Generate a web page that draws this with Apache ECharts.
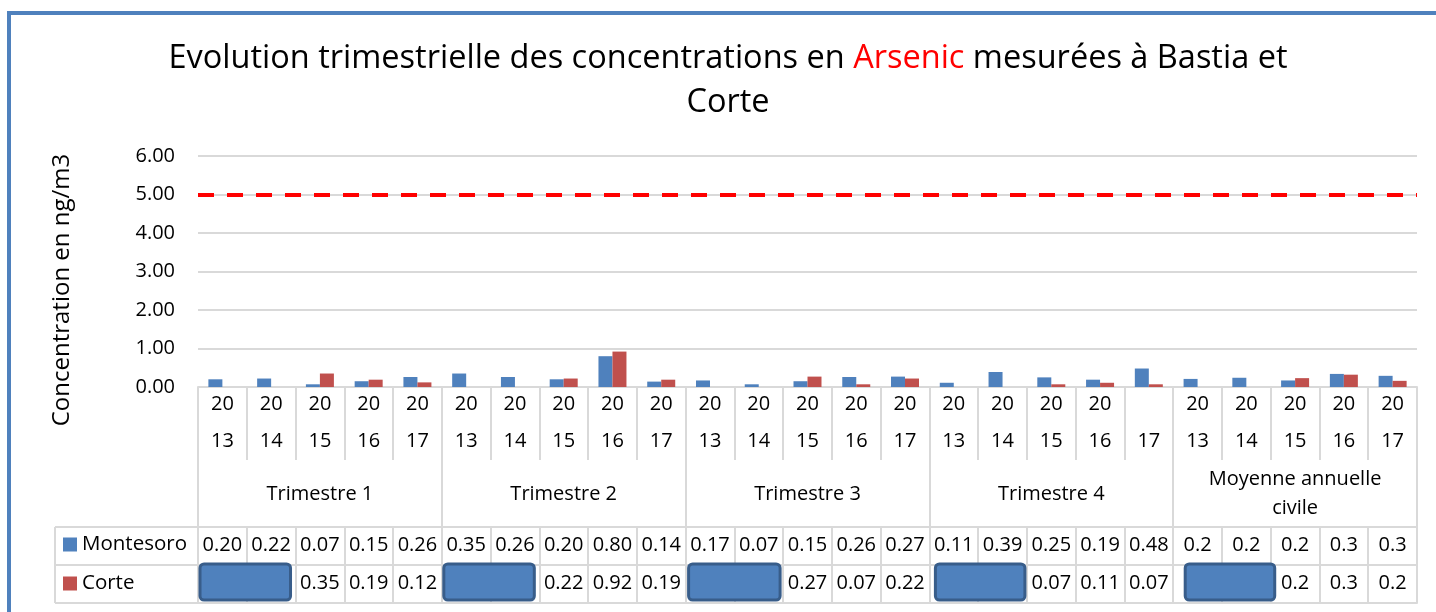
<!DOCTYPE html>
<html>
<head>
<meta charset="utf-8">
<script src="https://cdn.jsdelivr.net/npm/echarts@6/dist/echarts.min.js"></script>
<style>
html,body{margin:0;padding:0;background:#fff;}
#chart{width:1436px;height:612px;}
</style>
</head>
<body>
<div id="chart"></div>
<script>
// ---- data ----
var groups = ['Trimestre 1', 'Trimestre 2', 'Trimestre 3', 'Trimestre 4', 'Moyenne annuelle\ncivile'];
var yearTicks = [
  '20\n13','20\n14','20\n15','20\n16','20\n17',
  '20\n13','20\n14','20\n15','20\n16','20\n17',
  '20\n13','20\n14','20\n15','20\n16','20\n17',
  '20\n13','20\n14','20\n15','20\n16',' \n17',
  '20\n13','20\n14','20\n15','20\n16','20\n17'
];
var montesoro = [0.20,0.22,0.07,0.15,0.26, 0.35,0.26,0.20,0.80,0.14, 0.17,0.07,0.15,0.26,0.27, 0.11,0.39,0.25,0.19,0.48, 0.21,0.24,0.17,0.34,0.29];
var corte     = [null,null,0.35,0.19,0.12, null,null,0.22,0.92,0.19, null,null,0.27,0.07,0.22, null,null,0.07,0.11,0.07, null,null,0.23,0.32,0.16];
var seriesNames = ['Montesoro', 'Corte'];
var limitValue = 5;
var yTicks = [0, 1, 2, 3, 4, 5, 6];

// ---- layout constants ----
var FONT = 'Open Sans';
var FS = 20;
var GRID_L = 198, GRID_R = 19, GRID_T = 156, GRID_B = 225;
var AXIS_Y = 612 - GRID_B;          // 387
var ROW1 = AXIS_Y + 140, ROW2 = ROW1 + 38, ROW3 = ROW2 + 38;
var LEG_L = 55;
var GRAY = '#d9d9d9';

function fmt(v, i) {
  if (v === null || v === undefined) return '';
  return i >= 20 ? v.toFixed(1) : v.toFixed(2);
}
var idx = yearTicks.map(function (_, i) { return String(i); });

var chart = echarts.init(document.getElementById('chart'), null, {renderer: 'canvas'});

var tableAxis = function (offset, values, show) {
  return {
    type: 'category', data: idx, position: 'bottom', offset: offset,
    boundaryGap: true,
    axisLine: {show: true, lineStyle: {color: GRAY, width: 2}},
    axisTick: {show: show, interval: 0, length: 38, lineStyle: {color: GRAY, width: 2}},
    axisLabel: {
      show: show, interval: 0, margin: 18, verticalAlign: 'middle',
      fontFamily: FONT, fontSize: FS, color: '#000',
      formatter: function (v, i) { return values ? fmt(values[i], i) : ''; }
    },
    splitLine: {show: false}
  };
};

var option = {
  animation: false,
  backgroundColor: '#fff',
  grid: {left: GRID_L, right: GRID_R, top: GRID_T, bottom: GRID_B, containLabel: false},
  legend: {
    orient: 'vertical', left: 63, top: ROW1 + 7, padding: 0,
    itemWidth: 14, itemHeight: 14, itemGap: 18,
    icon: 'rect',
    textStyle: {fontFamily: FONT, fontSize: 20.5, color: '#000', lineHeight: 20},
    data: seriesNames
  },
  xAxis: [
    {
      type: 'category', data: yearTicks, position: 'bottom', boundaryGap: true,
      axisLine: {show: true, lineStyle: {color: GRAY, width: 2}},
      axisTick: {show: true, interval: 0, length: 73, lineStyle: {color: GRAY, width: 2}},
      axisLabel: {interval: 0, margin: 36, verticalAlign: 'middle', lineHeight: 37,
                  fontFamily: FONT, fontSize: FS, color: '#000'}
    },
    {
      type: 'category', data: groups, position: 'bottom', boundaryGap: true,
      axisLine: {show: false},
      axisTick: {show: true, interval: 0, length: 140, lineStyle: {color: GRAY, width: 2}},
      axisLabel: {interval: 0, margin: 107, verticalAlign: 'middle', lineHeight: 29,
                  fontFamily: FONT, fontSize: FS, color: '#000'}
    },
    tableAxis(140, montesoro, true),
    tableAxis(178, corte, true),
    tableAxis(216, null, false)
  ],
  yAxis: {
    type: 'value', min: yTicks[0], max: yTicks[yTicks.length - 1], interval: 1,
    axisLine: {show: false}, axisTick: {show: false},
    axisLabel: {margin: 23, fontFamily: FONT, fontSize: FS, color: '#000',
                formatter: function (v) { return v.toFixed(2); }},
    splitLine: {lineStyle: {color: GRAY, width: 2}}
  },
  series: [
    {
      name: seriesNames[0], type: 'bar', data: montesoro, xAxisIndex: 0,
      barWidth: 14, barGap: '0%',
      itemStyle: {color: '#4F81BD'},
      markLine: {
        silent: true, symbol: ['none', 'none'],
        label: {show: false},
        lineStyle: {color: '#FF0000', width: 4, type: [16, 13]},
        data: [{yAxis: limitValue}]
      }
    },
    {
      name: seriesNames[1], type: 'bar', data: corte, xAxisIndex: 0,
      barWidth: 14, barGap: '0%',
      itemStyle: {color: '#C0504D'}
    }
  ],
  graphic: [
    // outer frame
    {type: 'rect', shape: {x: 9, y: 13, width: 1450, height: 620},
     style: {fill: 'none', stroke: '#4F81BD', lineWidth: 4}, silent: true},
    // title
    {type: 'text', x: 728, y: 37,
     style: {
       text: 'Evolution trimestrielle des concentrations en {r|Arsenic} mesurées à Bastia et\nCorte',
       align: 'center', verticalAlign: 'top',
       fontFamily: FONT, fontSize: 32.5, lineHeight: 44, fill: '#000',
       rich: {r: {fill: '#FF0000', fontFamily: FONT, fontSize: 32.5, lineHeight: 44}}
     }},
    // y axis name
    {type: 'text', x: 62, y: 290, rotation: Math.PI / 2,
     style: {text: 'Concentration en ng/m3', align: 'center', verticalAlign: 'middle',
             fontFamily: FONT, fontSize: 24, fill: '#000'}},
    // legend column of data table
    {type: 'line', shape: {x1: LEG_L, y1: ROW1, x2: GRID_L, y2: ROW1}, style: {stroke: GRAY, lineWidth: 2}},
    {type: 'line', shape: {x1: LEG_L, y1: ROW2, x2: GRID_L, y2: ROW2}, style: {stroke: GRAY, lineWidth: 2}},
    {type: 'line', shape: {x1: LEG_L, y1: ROW3, x2: GRID_L, y2: ROW3}, style: {stroke: GRAY, lineWidth: 2}},
    {type: 'line', shape: {x1: LEG_L, y1: ROW1, x2: LEG_L, y2: ROW3}, style: {stroke: GRAY, lineWidth: 2}}
  ]
};
chart.setOption(option);

// blue masking boxes over the first two Corte cells of each group
var boxOffsets = [[2, -5], [2, -5], [3, -3], [6, -2], [12, 4]];
var c0 = chart.convertToPixel({xAxisIndex: 0}, 0);
var c1 = chart.convertToPixel({xAxisIndex: 0}, 1);
var bw = c1 - c0;
var boxes = [];
for (var g = 0; g < groups.length; g++) {
  var left = chart.convertToPixel({xAxisIndex: 0}, g * 5) - bw / 2 + boxOffsets[g][0];
  var right = chart.convertToPixel({xAxisIndex: 0}, g * 5 + 1) + bw / 2 + boxOffsets[g][1];
  boxes.push({
    type: 'rect', z: 100,
    shape: {x: left, y: ROW2 - 1, width: right - left, height: 36, r: 4},
    style: {fill: '#4F81BD', stroke: '#385D8A', lineWidth: 3}
  });
}
chart.setOption({graphic: option.graphic.concat(boxes)});
</script>
</body>
</html>
